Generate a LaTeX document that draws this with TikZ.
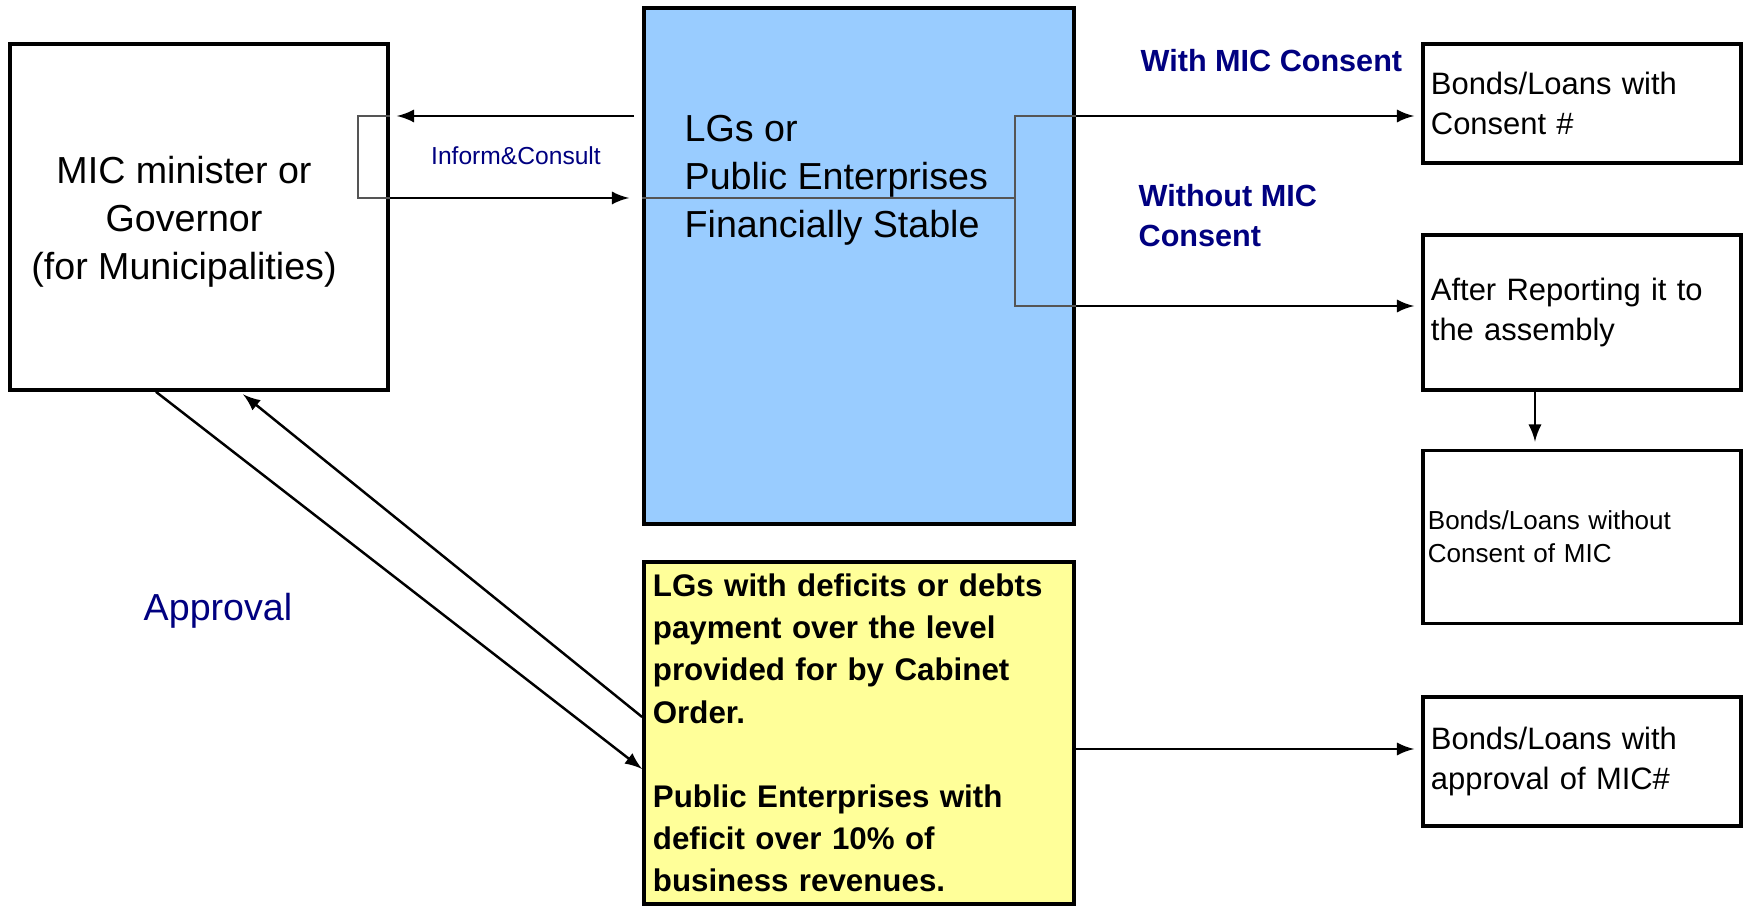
\documentclass[tikz,border=0pt]{standalone}
\usepackage{fontspec}
\setmainfont{Liberation Sans}
\usetikzlibrary{positioning}
\definecolor{stableblue}{HTML}{99CCFF}
\definecolor{deficityellow}{HTML}{FFFF99}
\definecolor{labelnavy}{HTML}{000080}
\definecolor{bracketgray}{HTML}{555555}
\newcommand\sizemain{\fontsize{10.7}{13.6}\selectfont}
\newcommand\sizedeficit{\fontsize{8.9}{12}\selectfont}
\newcommand\sizeresult{\fontsize{8.8}{11.4}\selectfont}
\newcommand\sizelabel{\fontsize{8.7}{11.4}\selectfont}
\newcommand\sizesmall{\fontsize{7.4}{9.5}\selectfont}
\newcommand\sizeinform{\fontsize{7}{9}\selectfont}
\tikzset{
  plainbox/.style={draw, line width=1pt, inner sep=0pt},
  resultbox/.style={plainbox, minimum width=3.18cm, text width=3.02cm, inner xsep=0.08cm, align=left, font=\sizeresult},
  bluelabel/.style={text=labelnavy, font=\sizelabel\bfseries, inner sep=0pt},
  arrowline/.style={line width=0.7pt},
  bracket/.style={draw=bracketgray, line width=0.8pt}
}
\begin{document}
\begin{tikzpicture}[x=0.01cm,y=-0.01cm,>=latex]
\useasboundingbox (0,0) rectangle (1744,907);
% levels of the connectors
\coordinate (toprow) at (0,116);
\coordinate (midrow) at (0,198);
\coordinate (lowrow) at (0,306);
\coordinate (deficitrow) at (0,749);
\coordinate (approvalrow) at (0,769);
\coordinate (returnrow) at (0,717);
\coordinate (approvalcol) at (156,0);
\coordinate (returncol) at (240,0);
\coordinate (reportcol) at (1535,0);
% boxes
\node[plainbox, minimum width=3.78cm, minimum height=3.46cm] (minister) at (199,217) {};
\node[font=\sizemain, align=center] (ministertext) at (184,222) {MIC minister or\\Governor\\(for Municipalities)};
\node[plainbox, fill=stableblue, minimum width=4.30cm, minimum height=5.16cm] (stable) at (859,266) {};
\node[font=\sizemain, align=left, anchor=west, inner sep=0pt] (stabletext) at (684,180) {LGs or\\Public Enterprises\\Financially Stable};
\node[plainbox, fill=deficityellow, minimum width=4.30cm, minimum height=3.42cm, text width=4.12cm, inner xsep=0.09cm, align=left, font=\sizedeficit\bfseries] (deficit) at (859,733) {LGs with deficits or debts\\payment over the level\\provided for by Cabinet\\Order.\\[12pt]Public Enterprises with\\deficit over 10\% of\\business revenues.};
\node[resultbox, minimum height=1.19cm] (consent) at (1582,103.5) {Bonds/Loans with\\Consent \#};
\node[resultbox, minimum height=1.55cm] (report) at (1582,312.5) {After Reporting it to\\the assembly};
\node[resultbox, minimum height=1.73cm, font=\sizesmall, text width=3.08cm, inner xsep=0.05cm] (noconsent) at (1582,537) {Bonds/Loans without\\Consent of MIC};
\node[resultbox, minimum height=1.29cm] (approved) at (1582,761.5) {Bonds/Loans with\\approval of MIC\#};
% labels
\node[bluelabel, anchor=west] (withlabel) at (1140,61) {With MIC Consent};
\node[bluelabel, anchor=west, align=left] (withoutlabel) at (1138,216) {Without MIC\\Consent};
\node[text=labelnavy, font=\sizeinform] (informlabel) at (516,156) {Inform\&Consult};
\node[text=labelnavy, font=\sizemain] (approvallabel) at (218,611) {Approval};
% inform and consult
\draw[bracket] (minister.east |- toprow) -| (358,198) -- (minister.east |- midrow);
\draw[arrowline,->,shorten <=0.08cm,shorten >=0.07cm] (stable.west |- toprow) -- (minister.east |- toprow);
\draw[arrowline,->,shorten >=0.13cm] (minister.east |- midrow) -- (stable.west |- midrow);
% branches out of the stable box
\draw[bracket] (stable.west |- midrow) -- (1015,198);
\draw[bracket] (stable.east |- toprow) -| (1015,306) -- (stable.east |- lowrow);
\draw[arrowline,->,shorten >=0.07cm] (stable.east |- toprow) -- (consent.west |- toprow);
\draw[arrowline,->,shorten >=0.07cm] (stable.east |- lowrow) -- (report.west |- lowrow);
\draw[arrowline,->,shorten >=0.07cm] (report.south -| reportcol) -- (noconsent.north -| reportcol);
\draw[arrowline,->,shorten >=0.07cm] (deficit.east |- deficitrow) -- (approved.west |- deficitrow);
% approval
\draw[arrowline,->] (minister.south -| approvalcol) -- (deficit.west |- approvalrow);
\draw[arrowline,->,shorten >=0.04cm] (deficit.west |- returnrow) -- (minister.south -| returncol);
\end{tikzpicture}
\end{document}
